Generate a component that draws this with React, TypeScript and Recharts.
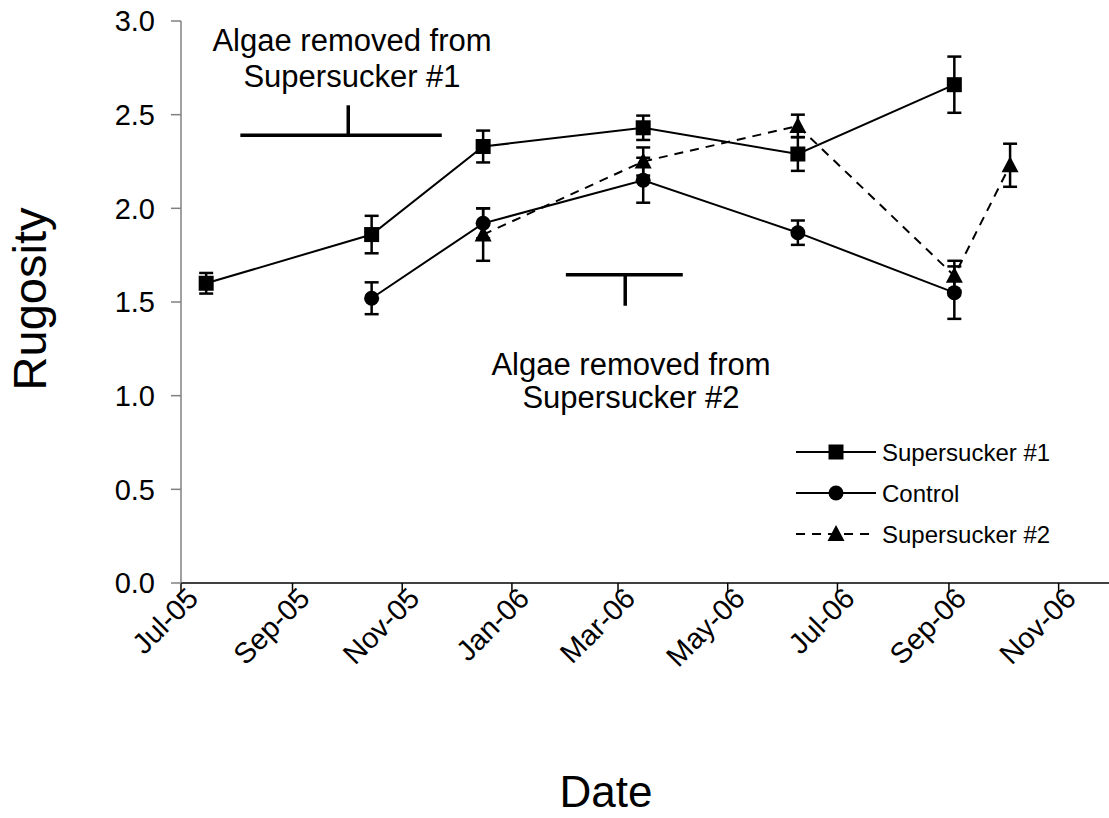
import { LineChart, Line, XAxis, YAxis, ErrorBar, ReferenceLine } from "recharts";

const FONT = '"Liberation Sans", Arial, Helvetica, sans-serif';

// x axis ticks (first of every second month)
const tickDates = [
  "2005-07-01", "2005-09-01", "2005-11-01", "2006-01-01", "2006-03-01",
  "2006-05-01", "2006-07-01", "2006-09-01", "2006-11-01",
];
const axisEnd = "2006-11-29";
const yTicks = [0, 0.5, 1, 1.5, 2, 2.5, 3];
const monthNames = ["Jan", "Feb", "Mar", "Apr", "May", "Jun", "Jul", "Aug", "Sep", "Oct", "Nov", "Dec"];

// Supersucker #1
const ss1Dates = ["2005-07-15", "2005-10-15", "2005-12-16", "2006-03-15", "2006-06-09", "2006-09-04"];
const ss1Values = [1.6, 1.86, 2.33, 2.43, 2.29, 2.66];
const ss1Errors = [0.055, 0.1, 0.085, 0.065, 0.09, 0.15];

// Control
const controlDates = ["2005-10-15", "2005-12-16", "2006-03-15", "2006-06-09", "2006-09-04"];
const controlValues = [1.52, 1.92, 2.15, 1.87, 1.55];
const controlErrors = [0.085, 0.08, 0.12, 0.065, 0.14];

// Supersucker #2
const ss2Dates = ["2005-12-16", "2006-03-15", "2006-06-09", "2006-09-04", "2006-10-05"];
const ss2Values = [1.86, 2.25, 2.44, 1.64, 2.23];
const ss2Errors = [0.14, 0.075, 0.06, 0.08, 0.115];

// "algae removed" brackets (data coordinates)
const bracket1 = { from: "2005-08-03", to: "2005-11-23", stem: "2005-10-02", y: 2.39, stemTop: 2.55 };
const bracket2 = { from: "2006-01-31", to: "2006-04-06", stem: "2006-03-05", y: 1.645, stemBottom: 1.48 };

const toTime = (d: string) => Date.parse(d + "T00:00:00Z");

const build = (dates: string[], values: number[], errors: number[]) =>
  dates.map((d, i) => ({ t: toTime(d), v: values[i], e: errors[i] }));

const ss1Data = build(ss1Dates, ss1Values, ss1Errors);
const controlData = build(controlDates, controlValues, controlErrors);
const ss2Data = build(ss2Dates, ss2Values, ss2Errors);

function fmtDate(t: number) {
  const d = new Date(t);
  return `${monthNames[d.getUTCMonth()]}-${String(d.getUTCFullYear()).slice(2)}`;
}

function square(cx: number, cy: number, key?: string) {
  return <rect key={key} x={cx - 7.5} y={cy - 7.5} width={15} height={15} fill="#000" />;
}
function circle(cx: number, cy: number, key?: string) {
  return <circle key={key} cx={cx} cy={cy} r={7.5} fill="#000" />;
}
function triangle(cx: number, cy: number, key?: string) {
  return <polygon key={key} points={`${cx},${cy - 9} ${cx + 8.5},${cy + 7} ${cx - 8.5},${cy + 7}`} fill="#000" />;
}

const SquareDot = (p: any) => square(p.cx, p.cy, `sq-${p.index}`);
const CircleDot = (p: any) => circle(p.cx, p.cy, `ci-${p.index}`);
const TriangleDot = (p: any) => triangle(p.cx, p.cy, `tr-${p.index}`);

function XTick(props: any) {
  const { x, y, payload } = props;
  const ax = x + 19;
  const ay = y + 5;
  return (
    <text x={ax} y={ay} transform={`rotate(-45 ${ax} ${ay})`} textAnchor="end" fontSize={29} fontFamily={FONT} fill="#000">
      {fmtDate(payload.value)}
    </text>
  );
}

const legendItems = [
  { name: "Supersucker #1", marker: square, dash: undefined as string | undefined },
  { name: "Control", marker: circle, dash: undefined as string | undefined },
  { name: "Supersucker #2", marker: triangle, dash: "9 7" },
];

export default function App() {
  return (
    <div style={{ position: "absolute", left: 0, top: 0, width: 1109, height: 818, background: "#fff" }}>
      <LineChart
        width={1109}
        height={818}
        margin={{ top: 21, right: 0, left: 121, bottom: 135 }}
        style={{ fontFamily: FONT }}
      >
        <XAxis
          dataKey="t"
          type="number"
          domain={[toTime(tickDates[0]), toTime(axisEnd)]}
          ticks={tickDates.map(toTime)}
          interval={0}
          allowDataOverflow
          tick={<XTick />}
          tickSize={10}
          tickLine={{ stroke: "#000", strokeWidth: 1.5 }}
          axisLine={{ stroke: "#000", strokeWidth: 1.5 }}
          height={100}
        />
        <YAxis
          type="number"
          domain={[0, 3]}
          ticks={yTicks}
          interval={0}
          tickFormatter={(v: number) => v.toFixed(1)}
          tick={{ fill: "#000", fontSize: 29, fontFamily: FONT }}
          tickSize={10}
          tickMargin={16}
          tickLine={{ stroke: "#808080", strokeWidth: 1.5 }}
          axisLine={{ stroke: "#808080", strokeWidth: 1.5 }}
          width={60}
        />
        <ReferenceLine
          segment={[{ x: toTime(bracket1.from), y: bracket1.y }, { x: toTime(bracket1.to), y: bracket1.y }]}
          stroke="#000"
          strokeWidth={3.5}
        />
        <ReferenceLine
          segment={[{ x: toTime(bracket1.stem), y: bracket1.y }, { x: toTime(bracket1.stem), y: bracket1.stemTop }]}
          stroke="#000"
          strokeWidth={3.5}
        />
        <ReferenceLine
          segment={[{ x: toTime(bracket2.from), y: bracket2.y }, { x: toTime(bracket2.to), y: bracket2.y }]}
          stroke="#000"
          strokeWidth={3.5}
        />
        <ReferenceLine
          segment={[{ x: toTime(bracket2.stem), y: bracket2.y }, { x: toTime(bracket2.stem), y: bracket2.stemBottom }]}
          stroke="#000"
          strokeWidth={3.5}
        />
        <Line
          data={ss2Data}
          dataKey="v"
          name="Supersucker #2"
          stroke="#000"
          strokeWidth={2}
          strokeDasharray="9 7"
          dot={TriangleDot}
          activeDot={false}
          isAnimationActive={false}
        >
          <ErrorBar dataKey="e" direction="y" width={7} stroke="#000" strokeWidth={2.5} />
        </Line>
        <Line
          data={controlData}
          dataKey="v"
          name="Control"
          stroke="#000"
          strokeWidth={2}
          dot={CircleDot}
          activeDot={false}
          isAnimationActive={false}
        >
          <ErrorBar dataKey="e" direction="y" width={7} stroke="#000" strokeWidth={2.5} />
        </Line>
        <Line
          data={ss1Data}
          dataKey="v"
          name="Supersucker #1"
          stroke="#000"
          strokeWidth={2}
          dot={SquareDot}
          activeDot={false}
          isAnimationActive={false}
        >
          <ErrorBar dataKey="e" direction="y" width={7} stroke="#000" strokeWidth={2.5} />
        </Line>
      </LineChart>
      <svg
        width={1109}
        height={818}
        style={{ position: "absolute", left: 0, top: 0, pointerEvents: "none" }}
        fontFamily={FONT}
      >
        <text x={352} y={51} textAnchor="middle" fontSize={31}>Algae removed from</text>
        <text x={352} y={87} textAnchor="middle" fontSize={31}>Supersucker #1</text>
        <text x={631} y={375} textAnchor="middle" fontSize={31}>Algae removed from</text>
        <text x={631} y={408} textAnchor="middle" fontSize={31}>Supersucker #2</text>
        <text x={46} y={299} textAnchor="middle" fontSize={47} transform="rotate(-90 46 299)">Rugosity</text>
        <text x={606} y={807} textAnchor="middle" fontSize={44}>Date</text>
        {legendItems.map((item, i) => {
          const cy = 452 + i * 41;
          return (
            <g key={item.name}>
              <line x1={796} x2={876} y1={cy} y2={cy} stroke="#000" strokeWidth={2} strokeDasharray={item.dash} />
              {item.marker(836, cy)}
              <text x={882} y={cy + 8.5} fontSize={24}>{item.name}</text>
            </g>
          );
        })}
      </svg>
    </div>
  );
}
